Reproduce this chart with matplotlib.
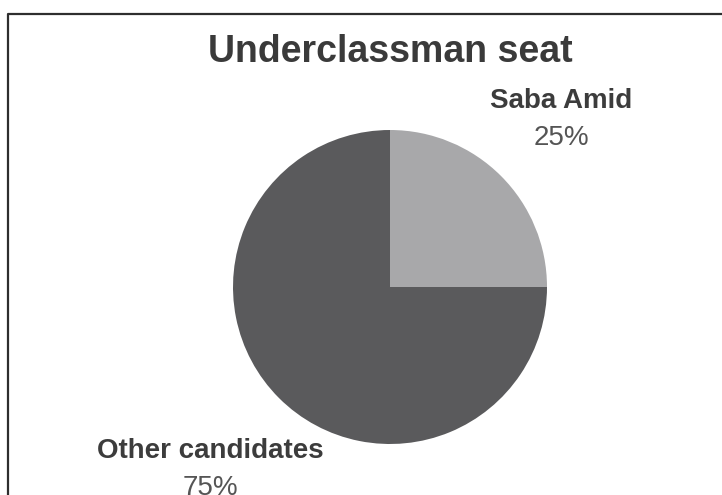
import numpy as np
import matplotlib
matplotlib.use('Agg')
import matplotlib.pyplot as plt

plt.rcParams['font.family'] = ['Liberation Sans', 'DejaVu Sans']

title = 'Underclassman seat'
candidates = ['Saba Amid', 'Other candidates']
shares = [25, 75]
colors = ['#a8a8aa', '#5a5a5c']
label_dist = [1.54, 1.62]  # in pie radii

W, H = 722, 495
fig = plt.figure(figsize=(W / 100, H / 100), dpi=100)
ax = fig.add_axes([0, 0, 1, 1])

# pie centre and radius in pixels (y measured up from the bottom)
cx, cy, r = 390, H - 287, 157
wedges, _ = ax.pie(shares, colors=colors, startangle=90, counterclock=False,
                   center=(cx, cy), radius=r, frame=True,
                   wedgeprops={'linewidth': 0})
ax.set_xlim(0, W)
ax.set_ylim(0, H)
ax.set_aspect('equal')
ax.axis('off')

# frame line (left and top only, the rest runs off the image)
ax.plot([8, 8, W + 5], [-5, H - 14, H - 14], color='#2e2e2e', lw=1.6,
        solid_capstyle='butt', clip_on=False)

ax.text(cx, H - 62, title, ha='center', va='baseline', fontsize=27,
        fontweight='bold', color='#3a3a3a')

# labels sit out along the middle of each wedge
for w, name, pct, d in zip(wedges, candidates, shares, label_dist):
    mid = np.deg2rad((w.theta1 + w.theta2) / 2)
    lx = cx + d * r * np.cos(mid)
    ly = cy + d * r * np.sin(mid)
    ax.text(lx, ly + 8.5, name, ha='center', va='baseline', fontsize=20,
            fontweight='bold', color='#3c3c3c')
    ax.text(lx, ly - 28.5, f'{pct}%', ha='center', va='baseline',
            fontsize=20, color='#555555')

fig.savefig('out.png', dpi=100, facecolor='white')
